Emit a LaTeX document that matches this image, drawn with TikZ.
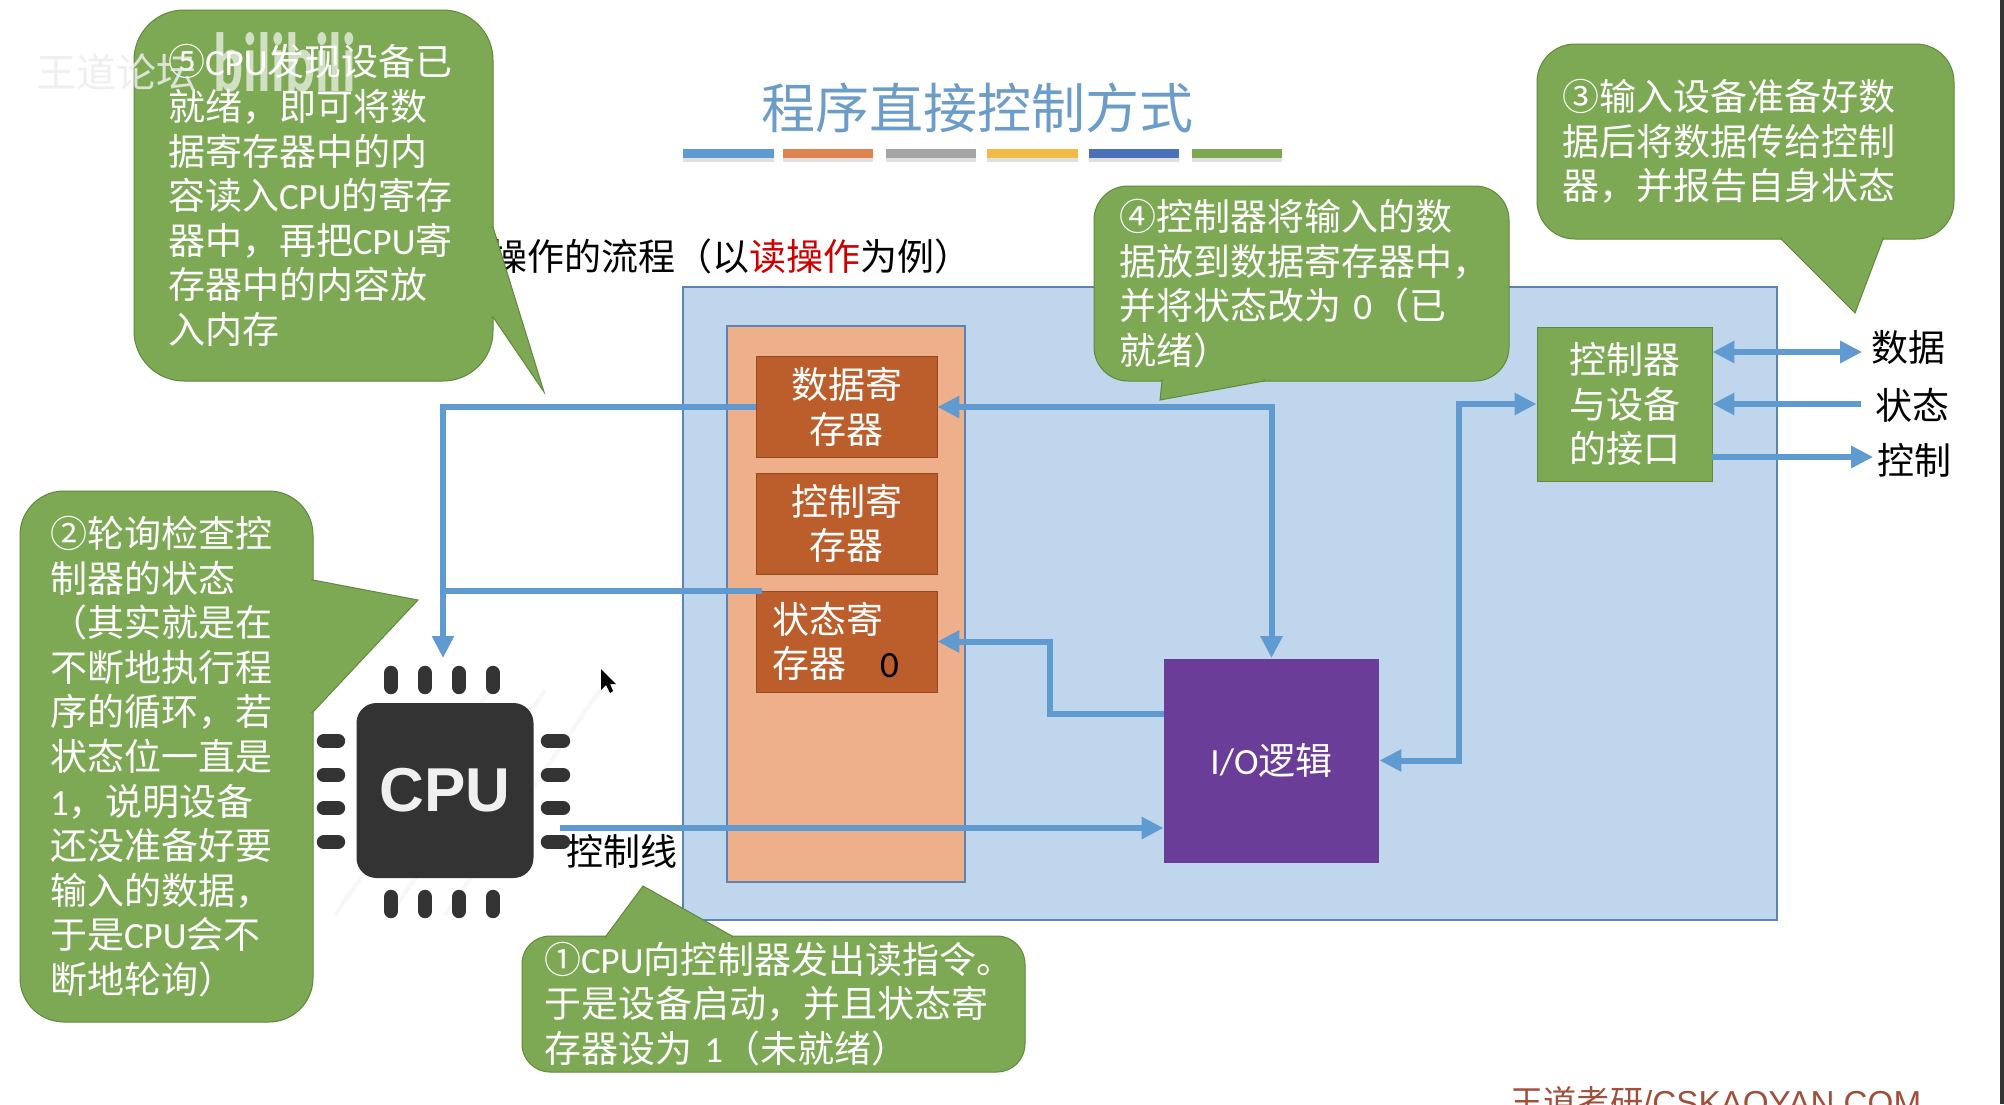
\documentclass[tikz,border=0pt]{standalone}
\usepackage{fontspec}
\usepackage{xcolor}
\usepackage{tikz}
\usetikzlibrary{arrows.meta, positioning}
\setmainfont{Noto Sans CJK SC}
\newfontfamily\lat{Carlito}
\newfontfamily\heads{Liberation Sans}
\definecolor{panelblue}{HTML}{BFD6EC}
\definecolor{panelline}{HTML}{5B84B4}
\definecolor{colorange}{HTML}{EDB08A}
\definecolor{regbrown}{HTML}{BC5D2C}
\definecolor{iopurple}{HTML}{6A3D99}
\definecolor{bubgreen}{HTML}{7DA955}
\definecolor{bubline}{HTML}{5F8A3C}
\definecolor{lineblue}{HTML}{5F9BD1}
\definecolor{titleblue}{HTML}{6C9DC9}
\definecolor{chipgray}{HTML}{333333}
\definecolor{markbrown}{HTML}{A0503A}

\begin{document}
\begin{tikzpicture}[
      x=0.5pt, y=-0.5pt,
      txt/.style={font=\fontsize{18.5}{22.3}\selectfont},
      panel/.style={draw=panelline, line width=0.6pt, inner sep=0pt},
      reg/.style={txt, draw=regbrown!80!black, line width=0.3pt, fill=regbrown, text=white, align=center,
                  minimum width=90.5pt, minimum height=50.5pt, inner sep=0pt},
      bubble/.style={txt, fill=bubgreen, draw=bubline, line width=0.5pt, text=white, align=left, inner ysep=0pt},
      tail/.style={fill=bubgreen, draw=bubline, line width=0.5pt},
      lbl/.style={txt, inner ysep=0pt},
      arr/.style={-{Triangle[length=11pt,width=10.5pt]}, line width=3pt, draw=lineblue},
      arrboth/.style={{Triangle[length=11pt,width=10.5pt]}-{Triangle[length=11pt,width=10.5pt]}, line width=3pt, draw=lineblue},
      plain/.style={line width=3pt, draw=lineblue},
      pin/.style={line width=7.2pt, line cap=round, draw=chipgray}
    ]
    \useasboundingbox (0,0) rectangle (2004,1104);
    \clip (0,0) rectangle (2004,1104);
    \fill[white] (0,0) rectangle (2004,1104);
    \fill[chipgray] (2000,0) rectangle (2004,1104);

    \node[font=\fontsize{27}{30}\selectfont, text=titleblue] (title) at (977,108) {程序直接控制方式};
    \foreach \xa/\xb/\col in {683/774/5F9BD1, 783/873/DF8450, 886/976/A5A5A5, 987/1078/F4BA48, 1089/1179/4A70B8, 1192/1282/7DA750} {
      \definecolor{barcol}{HTML}{\col}
      \fill[black!12] (\xa,158) rectangle (\xb,162);
      \fill[barcol] (\xa,149) rectangle (\xb,158);
    }
    \node[lbl, anchor=west, inner xsep=0pt] (flow) at (490,256) {操作的流程（以{\color{red!80!black}读操作}为例）};

    \node[panel, fill=panelblue, minimum width=547pt, minimum height=316.5pt] (board) at (1230,603.5) {};
    \node[panel, fill=colorange, minimum width=119pt, minimum height=278pt] (regs) at (846,604) {};
    \node[reg] (data) at (846.5,407) {数据寄\\存器};
    \node[reg] (ctrl) at (846.5,523.5) {控制寄\\存器};
    \node[reg, align=left, text width=74.5pt, inner xsep=8pt, minimum width=0pt] (status) at (846.5,641.5) {状态寄\\存器\hspace{17pt}{\color{black}\lat 0}};
    \node[txt, fill=iopurple, text=white, minimum width=107.5pt, minimum height=102pt, inner sep=0pt] (io) at (1271.5,760.5) {{\lat I/O}逻辑};
    \node[txt, fill=bubgreen, draw=bubline, line width=0.4pt, text=white, align=center,
          minimum width=87.5pt, minimum height=77pt, inner sep=0pt] (iface) at (1624.5,404) {控制器\\与设备\\的接口};

    \node[lbl, inner xsep=4.2pt] (lblData) at (1908,347) {数据};
    \node[lbl, inner xsep=7pt] (lblState) at (1912,405) {状态};
    \node[lbl, inner xsep=1.7pt] (lblCtrl) at (1914,460) {控制};
    \node[lbl] (lblWire) at (622,851) {控制线};

    \foreach \d in {0,55,110} {
      \draw[black!3, line width=2pt] (335+\d,915) -- (490+\d,690);
    }
    \foreach \x in {391,425,459,493} {
      \draw[pin] (\x,673) -- (\x,687);
      \draw[pin] (\x,897) -- (\x,911);
    }
    \foreach \y in {741,775,808,842} {
      \draw[pin] (324,\y) -- (338,\y);
      \draw[pin] (548,\y) -- (563,\y);
    }
    \node[fill=chipgray, rounded corners=10pt, minimum width=88.5pt, minimum height=87.5pt, inner sep=0pt,
          text=white!94!black, font=\heads\bfseries\fontsize{31}{31}\selectfont] (cpu) at (445,790.5) {\raisebox{-1.5pt}{CPU}};

    \coordinate (cpuIn) at (443,658);
    \coordinate (cpuOut) at (560,828);
    \coordinate (ioStat) at (1164,714);

    \draw[arr] (data.west) -| (cpuIn);
    \draw[plain] ([xshift=3pt]status.north west) -- (cpuIn |- status.north west);
    \draw[arrboth] (data.east) -| (io.north);
    \draw[arr] (ioStat) -- ++(-114,0) |- (status.east);
    \draw[arr] (cpuOut) -- (cpuOut -| io.west);
    \draw[arrboth] (io.east) -| (1459,404) -- (iface.west);
    \coordinate (dataY) at (0,352);
    \coordinate (stateY) at (0,404);
    \coordinate (ctrlY) at (0,457);
    \draw[arrboth] (iface.east |- dataY) -- (lblData.west |- dataY);
    \draw[arr] (lblState.west |- stateY) -- (iface.east |- stateY);
    \draw[arr] (iface.east |- ctrlY) -- (lblCtrl.west |- ctrlY);

    \node[bubble, rounded corners=25pt, text width=145.5pt, inner xsep=17pt, minimum height=185.5pt] (stepFive) at (313.5,195.5)
      {⑤{\lat CPU}发现设备已\\就绪，即可将数\\据寄存器中的内\\容读入{\lat CPU}的寄存\\器中，再把{\lat CPU}寄\\存器中的内容放\\入内存};
    \path[tail] (491,227) -- (493,227) -- (544,392) -- (493,317) -- (491,317);
    \node[bubble, rounded corners=22pt, text width=116.5pt, inner xsep=15pt, minimum height=265.5pt] (stepTwo) at (166.5,756.5)
      {②轮询检查控\\制器的状态\\（其实就是在\\不断地执行程\\序的循环，若\\状态位一直是\\{\lat 1}，说明设备\\还没准备好要\\输入的数据，\\于是{\lat CPU}会不\\断地轮询）};
    \path[tail] (311,580) -- (313,580) -- (418,600) -- (313,712) -- (311,712);
    \node[bubble, rounded corners=19pt, text width=183.5pt, inner xsep=12.5pt, minimum height=97.5pt] (stepThree) at (1745.5,141.5)
      {③输入设备准备好数\\据后将数据传给控制\\器，并报告自身状态};
    \path[tail] (1781,237) -- (1781,239) -- (1855,313) -- (1883,239) -- (1883,237);
    \node[bubble, rounded corners=17pt, text width=182.5pt, inner xsep=12.5pt, minimum height=97.5pt] (stepFour) at (1301.5,283.5)
      {④控制器将输入的数\\据放到数据寄存器中，\\并将状态改为 {\lat 0}（已\\就绪）};
    \path[tail] (1162,379) -- (1162,381) -- (1160,400) -- (1264,381) -- (1264,379);
    \node[bubble, rounded corners=14pt, text width=229.5pt, inner xsep=11pt, minimum height=68pt] (stepOne) at (773.5,1004)
      {①{\lat CPU}向控制器发出读指令。\\于是设备启动，并且状态寄\\存器设为 {\lat 1}（未就绪）};
    \path[tail] (606,938) -- (606,936) -- (643,886) -- (732,936) -- (732,938);

    \fill[black] (601,669) -- (601,690) -- (606,685) -- (610,693) -- (613,691) -- (610,684) -- (616,684) -- cycle;

    \node[font=\fontsize{20}{22}\selectfont, text=black!7, opacity=0.85] (logoText) at (116,72) {王道论坛};
    \node[font=\lat\bfseries\fontsize{28}{28}\selectfont, text=white, opacity=0.65, yscale=1.5] (logoBili) at (285,62) {bilibili};
    \node[anchor=west, text=markbrown, inner sep=0pt, font=\fontsize{16.6}{18}\selectfont] (mark) at (1510,1102) {王道考研{\heads/CSKAOYAN.COM}};
  \end{tikzpicture}
\end{document}
